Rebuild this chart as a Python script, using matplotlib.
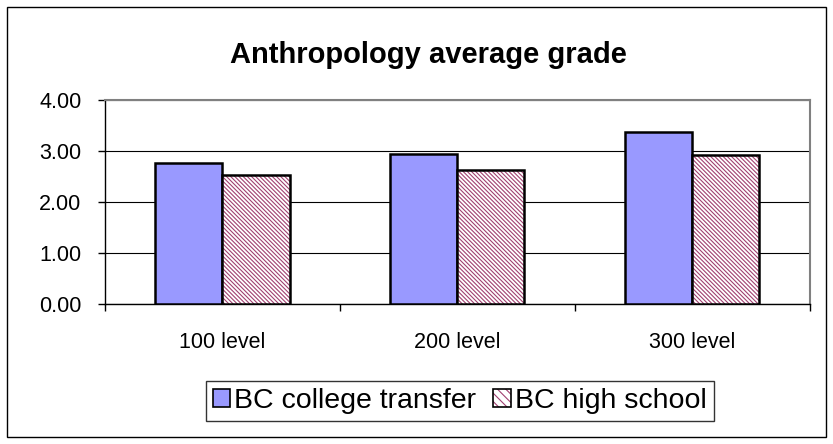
import matplotlib
matplotlib.use("Agg")
import matplotlib.pyplot as plt
from matplotlib.patches import Rectangle
from matplotlib.legend_handler import HandlerTuple
import numpy as np

categories = ["100 level", "200 level", "300 level"]
transfer = [2.76, 2.94, 3.37]
highschool = [2.53, 2.63, 2.92]
series_names = ["BC college transfer", "BC high school"]
yticks = [0.0, 1.0, 2.0, 3.0, 4.0]

plt.rcParams['font.family'] = ['Liberation Sans', 'DejaVu Sans']
plt.rcParams['hatch.linewidth'] = 0.8

BLUE = '#9999ff'
MAROON = '#a04070'
HATCH = '\\' * 8

fig = plt.figure(figsize=(8.33, 4.44), dpi=100)
ax = fig.add_axes([0.126, 0.315, 0.846, 0.46])

x = np.arange(len(categories))
w = 0.2857
ax.bar(x - w/2, transfer, width=w, color=BLUE, edgecolor='black', linewidth=1.8, zorder=3)
ax.bar(x + w/2, highschool, width=w, color='white', edgecolor=MAROON, linewidth=0,
       hatch=HATCH, zorder=3)
ax.bar(x + w/2, highschool, width=w, fill=False, edgecolor='black', linewidth=1.8, zorder=4)

ax.set_xlim(-0.5, 2.5)
ax.set_ylim(0, 4)
ax.set_yticks(yticks)
ax.set_yticklabels([f"{v:.2f}" for v in yticks], fontsize=15.5)
ax.set_xticks([-0.5, 0.5, 1.5, 2.5])
ax.set_xticklabels([])
ax.set_xticks(x, minor=True)
ax.set_xticklabels(categories, minor=True, fontsize=15.5)
ax.tick_params(axis='x', which='minor', length=0, pad=20)
ax.tick_params(axis='x', which='major', length=5, direction='out', width=1)
ax.tick_params(axis='y', length=5, direction='out', width=1, pad=12)
ax.yaxis.grid(True, color='black', linewidth=0.8, zorder=0)
ax.set_axisbelow(True)
for s in ['top', 'right']:
    ax.spines[s].set_color('#808080')
    ax.spines[s].set_linewidth(1.5)
for s in ['left', 'bottom']:
    ax.spines[s].set_color('black')
    ax.spines[s].set_linewidth(1.0)

fig.text(0.514, 0.876, "Anthropology average grade", ha='center', va='center',
         fontsize=21, fontweight='bold')

h1 = Rectangle((0, 0), 1, 1, facecolor=BLUE, edgecolor='black', linewidth=1.2)
h2a = Rectangle((0, 0), 1, 1, facecolor='white', edgecolor=MAROON, linewidth=0, hatch='\\' * 4)
h2b = Rectangle((0, 0), 1, 1, fill=False, edgecolor='black', linewidth=1.2)
leg = fig.legend([h1, (h2a, h2b)], series_names, handler_map={tuple: HandlerTuple(ndivide=1, pad=0)},
                 loc='center', bbox_to_anchor=(0.552, 0.097), ncol=2, fontsize=20.5,
                 frameon=True, fancybox=False, edgecolor='black', handlelength=0.6,
                 handleheight=0.6, handletextpad=0.15, columnspacing=0.6,
                 borderpad=0.25, borderaxespad=0)
leg.get_frame().set_linewidth(1.0)

fig.patches.append(Rectangle((0.008, 0.016), 0.984, 0.968, transform=fig.transFigure,
                             fill=False, edgecolor='black', linewidth=1.0))

fig.savefig("out.png", dpi=100)
